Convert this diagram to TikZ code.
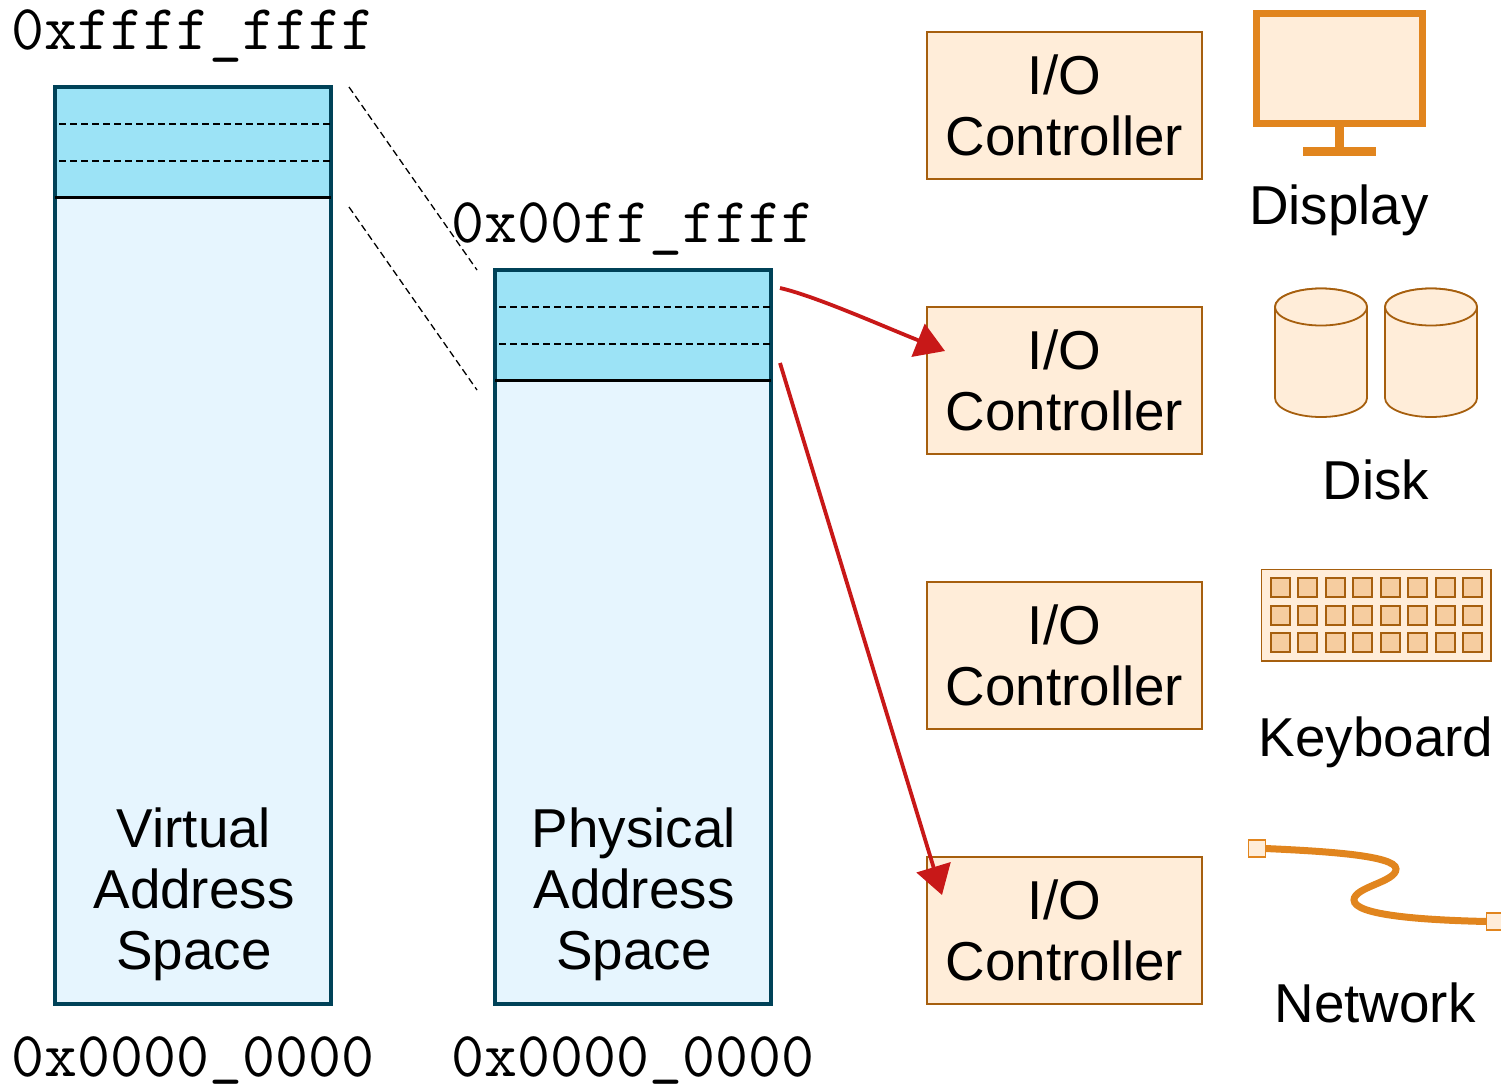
\documentclass[tikz,border=0pt]{standalone}
\usepackage{fontspec}
\setmainfont{Liberation Sans}
\usetikzlibrary{arrows.meta}
\definecolor{spaceline}{HTML}{004258}
\definecolor{spacefill}{HTML}{E6F5FE}
\definecolor{iofill}{HTML}{9CE3F6}
\definecolor{ctlfill}{HTML}{FFEDD9}
\definecolor{ctlline}{HTML}{A65F0E}
\definecolor{devline}{HTML}{E1851E}
\definecolor{keyfill}{HTML}{F6CDA0}
\definecolor{arrowred}{HTML}{C81818}
\tikzset{
  every node/.style={inner sep=0pt,outer sep=0pt},
  bigtext/.style={font=\fontsize{27.4pt}{30.5pt}\selectfont,text=black,align=center},
  addr/.style={font=\fontsize{32pt}{32pt}\ttfamily,text=black,anchor=base},
  space/.style={draw=spaceline,line width=2.3pt,fill=spacefill,minimum width=138pt},
  ctl/.style={draw=ctlline,line width=0.9pt,fill=ctlfill,minimum width=137.5pt,minimum height=73.5pt,bigtext},
  divide/.style={line width=0.65pt,dash pattern=on 3.5pt off 2pt,black},
  red/.style={draw=arrowred,line width=1.9pt,-{Triangle[length=14.5pt,width=17.5pt]}},
  disk/.style={draw=ctlline,line width=0.9pt,fill=ctlfill},
  keyc/.style={draw=ctlline,line width=1pt,fill=keyfill,minimum width=9.5pt,minimum height=9.5pt},
  port/.style={draw=devline,line width=0.9pt,fill=ctlfill,minimum width=8.5pt,minimum height=8.5pt},
}
\newcommand{\lowbar}{\raisebox{2.5pt}{\_}}
\begin{document}
\begin{tikzpicture}[x=0.5pt,y=-0.5pt]
\useasboundingbox (0,0) rectangle (1501,1088);
% address spaces
\node[space,anchor=north west,minimum height=458.5pt] (vbox) at (55,87) {};
\node[space,anchor=north west,minimum height=367pt] (pbox) at (495,270) {};
\fill[iofill] (57,89) rectangle (329,197);
\fill[iofill] (497,272) rectangle (769,380);
\draw[spaceline,line width=2.3pt] (55,87) rectangle (331,1004);
\draw[spaceline,line width=2.3pt] (495,270) rectangle (771,1004);
\draw[divide] (59,124) -- (330,124);
\draw[divide] (59,161) -- (330,161);
\draw[divide] (499,307) -- (770,307);
\draw[divide] (499,344) -- (770,344);
\draw[black,line width=1.5pt] (55,197) -- (331,197);
\draw[black,line width=1.5pt] (495,380) -- (771,380);
\node[bigtext,anchor=center] (vlabel) at (194,894) {Virtual\\Address\\Space};
\node[bigtext,anchor=center] (plabel) at (634,894) {Physical\\Address\\Space};
\node[addr] (a1) at (193,49.5) {0xffff\_ffff};
\node[addr] (a2) at (633,242.5) {0x00ff\_ffff};
\node[addr] (a3) at (193,1076) {0x0000\lowbar 0000};
\node[addr] (a4) at (633,1076) {0x0000\lowbar 0000};
% mapping lines
\coordinate (m1) at (349,87); \coordinate (m2) at (477,270);
\coordinate (m3) at (349,207); \coordinate (m4) at (477,390);
\draw[divide] (m1) -- (m2);
\draw[divide] (m3) -- (m4);
% controllers
\node[ctl] (c1) at (1064.5,105.5) {I/O\\Controller};
\node[ctl] (c2) at (1064.5,380.5) {I/O\\Controller};
\node[ctl] (c3) at (1064.5,655.5) {I/O\\Controller};
\node[ctl] (c4) at (1064.5,930.5) {I/O\\Controller};
% arrows
\coordinate (s1) at (780,288); \coordinate (s2) at (780,363);
\coordinate (t1) at (945,351); \coordinate (t2) at (942,895);
\draw[red] (s1) .. controls (815,296) and (880,325) .. (t1);
\draw[red] (s2) -- (t2);
% display
\draw[devline,line width=3.5pt,fill=ctlfill] (1256.5,13.5) rectangle (1422.5,123.5);
\fill[devline] (1335,127) rectangle (1344,147);
\fill[devline] (1303,147) rectangle (1376,156);
\node[bigtext,anchor=base] (ldisplay) at (1339,224) {Display};
% disks
\draw[disk] (1275,307) -- (1275,398) arc[start angle=180,end angle=0,x radius=46,y radius=19] -- (1367,307) arc[start angle=0,end angle=-180,x radius=46,y radius=18.5] -- cycle;
\draw[disk] (1321,307) ellipse[x radius=46,y radius=18.5];
\draw[disk] (1385,307) -- (1385,398) arc[start angle=180,end angle=0,x radius=46,y radius=19] -- (1477,307) arc[start angle=0,end angle=-180,x radius=46,y radius=18.5] -- cycle;
\draw[disk] (1431,307) ellipse[x radius=46,y radius=18.5];
\node[bigtext,anchor=base] (ldisk) at (1376,499) {Disk};
% keyboard
\draw[disk] (1261.5,569.5) rectangle (1491,661);
\foreach \r in {0,1,2}{\foreach \c in {0,...,7}{
  \node[keyc] (k\r\c) at ({1280+27.5*\c},{587.5+27.5*\r}) {};
}}
\node[bigtext,anchor=base] (lkeyboard) at (1376,756) {Keyboard};
% network
\node[port] (p1) at (1257,848.5) {};
\node[port] (p2) at (1495,921.5) {};
\draw[devline,line width=3.5pt] (p1.east) .. controls (1320,851) and (1396,855) .. (1396,869) .. controls (1396,882) and (1354,887) .. (1354,900) .. controls (1354,915) and (1420,920) .. (p2.west);
\node[bigtext,anchor=base] (lnetwork) at (1375,1022) {Network};
\end{tikzpicture}
\end{document}
